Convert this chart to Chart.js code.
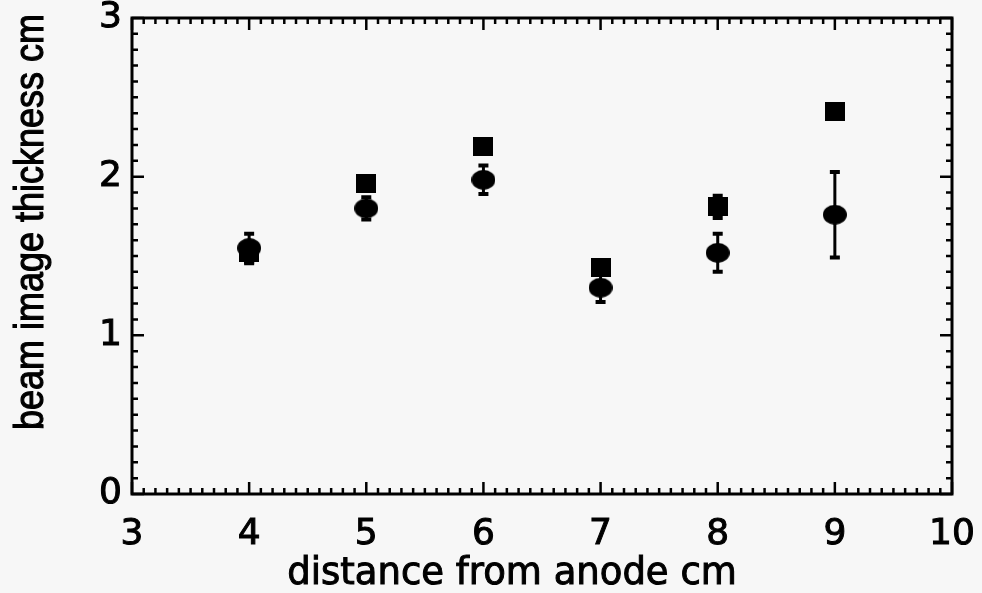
<!DOCTYPE html>
<html><head><meta charset="utf-8">
<script src="https://cdn.jsdelivr.net/npm/chart.js@4"></script>
<style>html,body{margin:0;padding:0;background:#f7f7f7;}#wrap{width:982px;height:593px;position:relative;}</style>
</head><body><div id="wrap"><canvas id="c"></canvas></div>
<script>
const distances = [4, 5, 6, 7, 8, 9];
const circleValues = [1.55, 1.80, 1.98, 1.30, 1.52, 1.76];
const circleErrors = [0.09, 0.07, 0.09, 0.09, 0.12, 0.27];
const squareValues = [1.52, 1.96, 2.19, 1.43, 1.81, 2.41];
const squareErrors = [0.065, 0.04, 0.04, 0.03, 0.07, 0.04];
const xTicks = [3, 4, 5, 6, 7, 8, 9, 10];
const yTicks = [0, 1, 2, 3];
const xTitle = 'distance from anode cm';
const yTitle = 'beam image thickness cm';

function makeEllipse(w, h) {
  const c = document.createElement('canvas'); c.width = w; c.height = h;
  const g = c.getContext('2d'); g.fillStyle = '#000';
  g.beginPath(); g.ellipse(w / 2, h / 2, w / 2, h / 2, 0, 0, Math.PI * 2); g.fill();
  return c;
}
function makeSquare(w, h) {
  const c = document.createElement('canvas'); c.width = w; c.height = h;
  const g = c.getContext('2d'); g.fillStyle = '#000'; g.fillRect(0, 0, w, h);
  return c;
}

const bg = { id: 'bg', beforeDraw(chart) { const { ctx } = chart; ctx.save(); ctx.fillStyle = '#f7f7f7'; ctx.fillRect(0, 0, chart.width, chart.height); ctx.restore(); } };

const errorBars = {
  id: 'errorBars',
  beforeDatasetsDraw(chart) {
    const { ctx, scales: { x, y } } = chart;
    ctx.save(); ctx.strokeStyle = '#000'; ctx.lineCap = 'butt';
    chart.data.datasets.forEach(ds => {
      ds.data.forEach((p, i) => {
        const e = ds.errors[i];
        const px = x.getPixelForValue(p.x);
        const top = y.getPixelForValue(p.y + e), bot = y.getPixelForValue(p.y - e);
        ctx.lineWidth = 3;
        ctx.beginPath(); ctx.moveTo(px, top); ctx.lineTo(px, bot); ctx.stroke();
        ctx.lineWidth = 4;
        ctx.beginPath(); ctx.moveTo(px - 5, top); ctx.lineTo(px + 5, top);
        ctx.moveTo(px - 5, bot); ctx.lineTo(px + 5, bot); ctx.stroke();
      });
    });
    ctx.restore();
  }
};

const frame = {
  id: 'frame',
  afterDraw(chart) {
    const { ctx, chartArea: a, scales: { x, y } } = chart;
    ctx.save(); ctx.strokeStyle = '#000';
    ctx.lineWidth = 3;
    ctx.strokeRect(a.left, a.top, a.right - a.left, a.bottom - a.top);
    ctx.lineWidth = 2.5;
    ctx.beginPath();
    for (let k = 30; k <= 100; k++) {
      const v = k / 10, px = x.getPixelForValue(v), L = (k % 10 === 0) ? 12 : 6;
      ctx.moveTo(px, a.bottom); ctx.lineTo(px, a.bottom - L);
      ctx.moveTo(px, a.top); ctx.lineTo(px, a.top + L);
    }
    for (let k = 0; k <= 30; k++) {
      const v = k / 10, py = y.getPixelForValue(v), L = (k % 10 === 0) ? 12 : 6;
      ctx.moveTo(a.left, py); ctx.lineTo(a.left + L, py);
      ctx.moveTo(a.right, py); ctx.lineTo(a.right - L, py);
    }
    ctx.stroke();
    ctx.fillStyle = '#000';
    ctx.lineWidth = 1;
    ctx.font = '37px "DejaVu Sans"';
    ctx.textAlign = 'center'; ctx.textBaseline = 'alphabetic';
    ctx.fillText(xTitle, 512, 584);
    ctx.strokeText(xTitle, 512, 584);
    ctx.translate(43, 222); ctx.rotate(-Math.PI / 2); ctx.scale(1, 1.15);
    ctx.font = '36px "Liberation Sans"';
    ctx.fillText(yTitle, 0, 0);
    ctx.strokeText(yTitle, 0, 0);
    ctx.restore();
  }
};

new Chart(document.getElementById('c'), {
  type: 'scatter',
  data: {
    datasets: [
      {
        label: 'circles', order: 0,
        data: distances.map((d, i) => ({ x: d, y: circleValues[i] })),
        errors: circleErrors,
        pointStyle: makeEllipse(24, 20), pointRadius: 12, backgroundColor: '#000', borderColor: '#000'
      },
      {
        label: 'squares', order: 1,
        data: distances.map((d, i) => ({ x: d, y: squareValues[i] })),
        errors: squareErrors,
        pointStyle: makeSquare(20, 19), pointRadius: 10, backgroundColor: '#000', borderColor: '#000'
      }
    ]
  },
  options: {
    responsive: true, maintainAspectRatio: false, animation: false,
    layout: { autoPadding: false, padding: { top: 18, right: 30, left: 0, bottom: 0 } },
    plugins: { legend: { display: false }, tooltip: { enabled: false } },
    scales: {
      x: {
        type: 'linear', min: 3, max: 10,
        grid: { display: false, drawTicks: false }, border: { display: false },
        afterBuildTicks: s => { s.ticks = xTicks.map(v => ({ value: v })); },
        afterFit: s => { s.height = 99; s.paddingLeft = 0; s.paddingRight = 0; s.paddingTop = 0; s.paddingBottom = 0; },
        ticks: { color: '#000', font: { family: 'DejaVu Sans', size: 36 }, padding: 19, maxRotation: 0, textStrokeColor: '#000', textStrokeWidth: 1 }
      },
      y: {
        type: 'linear', min: 0, max: 3,
        grid: { display: false, drawTicks: false }, border: { display: false },
        afterBuildTicks: s => { s.ticks = yTicks.map(v => ({ value: v })); },
        afterFit: s => { s.width = 132; s.paddingLeft = 0; s.paddingRight = 0; s.paddingTop = 0; s.paddingBottom = 0; },
        ticks: { color: '#000', font: { family: 'DejaVu Sans', size: 36 }, padding: 10, textStrokeColor: '#000', textStrokeWidth: 1 }
      }
    }
  },
  plugins: [bg, errorBars, frame]
});
</script></body></html>
